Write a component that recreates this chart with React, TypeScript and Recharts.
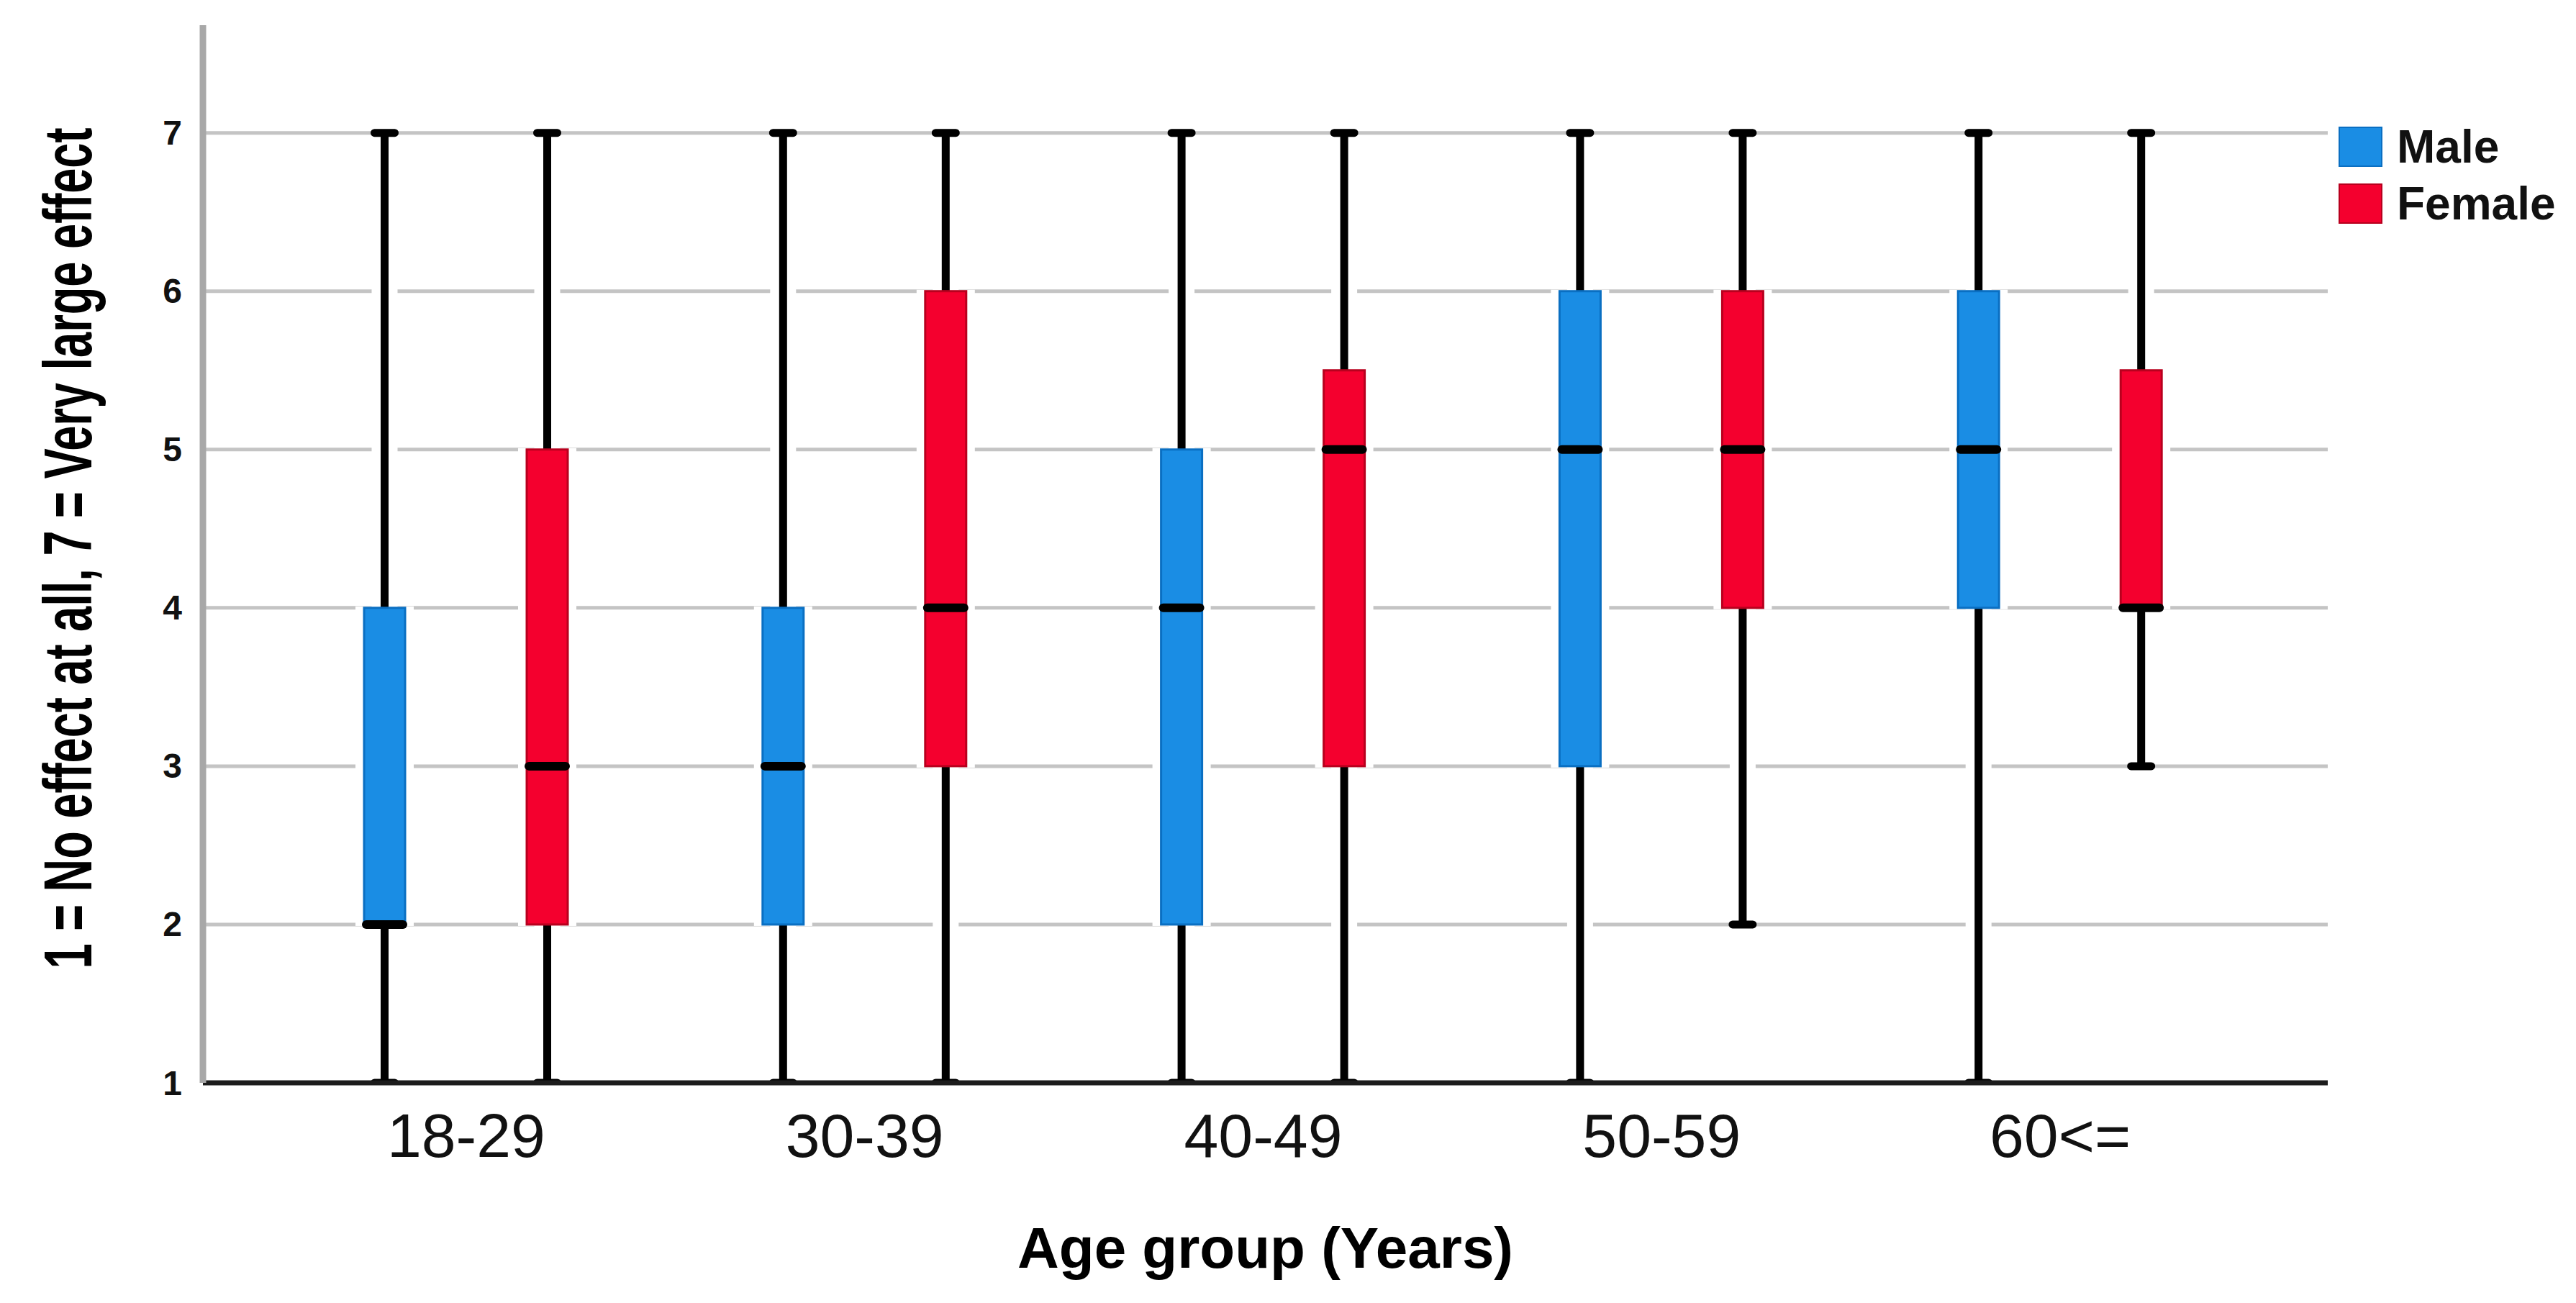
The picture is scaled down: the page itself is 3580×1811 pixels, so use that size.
import React from "react";
import { ComposedChart, Bar, XAxis, YAxis, CartesianGrid } from "recharts";

const ageGroups = ["18-29", "30-39", "40-49", "50-59", "60<="];
// per group: [min, q1, median, q3, max]
const maleStats = [
  [1, 2, 2, 4, 7],
  [1, 2, 3, 4, 7],
  [1, 2, 4, 5, 7],
  [1, 3, 5, 6, 7],
  [1, 4, 5, 6, 7],
];
const femaleStats = [
  [1, 2, 3, 5, 7],
  [1, 3, 4, 6, 7],
  [1, 3, 5, 5.5, 7],
  [2, 4, 5, 6, 7],
  [3, 4, 4, 5.5, 7],
];
const yTicks = [1, 2, 3, 4, 5, 6, 7];
const seriesNames = ["Male", "Female"];
const seriesFill = ["#1a8de4", "#f4002e"];
const seriesEdge = ["#0a6fc2", "#b8001e"];

const data = ageGroups.map((g, i) => ({
  group: g,
  male: [maleStats[i][0], maleStats[i][4]],
  female: [femaleStats[i][0], femaleStats[i][4]],
  maleStats: maleStats[i],
  femaleStats: femaleStats[i],
}));

const FONT = "'Liberation Sans', Arial, Helvetica, sans-serif";

const makeBox = (statKey: string, fill: string, edge: string) => (props: any) => {
  const { x, y, width, height, payload } = props;
  const [mn, q1, md, q3, mx] = payload[statKey];
  const top = Math.min(y, y + height);
  const bottom = Math.max(y, y + height);
  const py = (v: number) => bottom - ((v - mn) / (mx - mn)) * (bottom - top);
  const cx = x + width / 2;
  return (
    <g>
      <line x1={cx} x2={cx} y1={py(mx) - 10} y2={py(mn) - 6} stroke="#fff" strokeWidth={36} />
      <rect x={x - 12} y={py(q3) - 2} width={width + 24} height={py(q1) - py(q3) + 4} fill="#fff" />
      <line x1={cx} x2={cx} y1={py(mx)} y2={py(mn)} stroke="#000" strokeWidth={11} />
      <line x1={cx - 14} x2={cx + 14} y1={py(mx)} y2={py(mx)} stroke="#000" strokeWidth={11} strokeLinecap="round" />
      <line x1={cx - 14} x2={cx + 14} y1={py(mn)} y2={py(mn)} stroke="#000" strokeWidth={11} strokeLinecap="round" />
      <rect x={x} y={py(q3)} width={width} height={py(q1) - py(q3)} fill={fill} stroke={edge} strokeWidth={3} />
      <rect x={x - 3} y={py(md) - 6} width={width + 6} height={12} rx={6} fill="#000" />
    </g>
  );
};

const XTick = ({ x, y, payload }: any) => (
  <text x={x} y={y} textAnchor="middle" fontFamily={FONT} fontSize={86} fill="#111">
    {payload.value}
  </text>
);

const YTick = ({ x, y, payload }: any) => (
  <text x={x} y={y} textAnchor="end" dominantBaseline="central" fontFamily={FONT} fontWeight="bold" fontSize={48} fill="#111">
    {payload.value}
  </text>
);

const YTitle = ({ viewBox }: any) => {
  const cx = viewBox.x + 127;
  const cy = viewBox.y + viewBox.height / 2 - 8;
  return (
    <text
      transform={`translate(${cx}, ${cy}) scale(1, 0.665) rotate(-90)`}
      textAnchor="middle"
      fontFamily={FONT}
      fontWeight="bold"
      fontSize={95}
      fill="#000"
    >
      1 = No effect at all, 7 = Very large effect
    </text>
  );
};

const XTitle = ({ viewBox }: any) => (
  <text
    x={viewBox.x + viewBox.width / 2}
    y={viewBox.y + 257}
    textAnchor="middle"
    fontFamily={FONT}
    fontWeight="bold"
    fontSize={80}
    fill="#000"
  >
    Age group (Years)
  </text>
);

function LegendBox() {
  return (
    <div style={{ position: "absolute", left: 3250, top: 164, fontFamily: FONT }}>
      {seriesNames.map((name, i) => (
        <div key={name} style={{ display: "flex", alignItems: "center", height: 79 }}>
          <div
            style={{
              width: 57,
              height: 52,
              background: seriesFill[i],
              border: `2px solid ${seriesEdge[i]}`,
              marginRight: 20,
            }}
          />
          <span style={{ fontSize: 64, fontWeight: "bold", color: "#111", lineHeight: 1 }}>{name}</span>
        </div>
      ))}
    </div>
  );
}

export default function App() {
  return (
    <div style={{ position: "absolute", left: 0, top: 0, width: 3580, height: 1811, background: "#fff" }}>
      <ComposedChart
        width={3580}
        height={1811}
        data={data}
        margin={{ top: 35, right: 345, bottom: 0, left: 0 }}
        barGap={169}
      >
        <CartesianGrid
          vertical={false}
          horizontalValues={yTicks}
          syncWithTicks
          stroke="#c4c4c4"
          strokeWidth={5}
        />
        <Bar
          dataKey="male"
          name={seriesNames[0]}
          barSize={57}
          isAnimationActive={false}
          shape={makeBox("maleStats", seriesFill[0], seriesEdge[0])}
        />
        <Bar
          dataKey="female"
          name={seriesNames[1]}
          barSize={57}
          isAnimationActive={false}
          shape={makeBox("femaleStats", seriesFill[1], seriesEdge[1])}
        />
        <XAxis
          dataKey="group"
          height={306}
          padding={{ left: 89, right: 95 }}
          axisLine={{ stroke: "#1c1c1c", strokeWidth: 7 }}
          tickLine={false}
          tickSize={0}
          tickMargin={103}
          tick={<XTick />}
          label={{ content: <XTitle /> } as any}
        />
        <YAxis
          type="number"
          domain={[1, 7.68]}
          ticks={yTicks}
          width={282}
          allowDataOverflow
          axisLine={{ stroke: "#a8a8a8", strokeWidth: 9 }}
          tickLine={false}
          tickSize={0}
          tickMargin={29}
          tick={<YTick />}
          label={{ content: <YTitle /> } as any}
        />
      </ComposedChart>
      <LegendBox />
    </div>
  );
}
